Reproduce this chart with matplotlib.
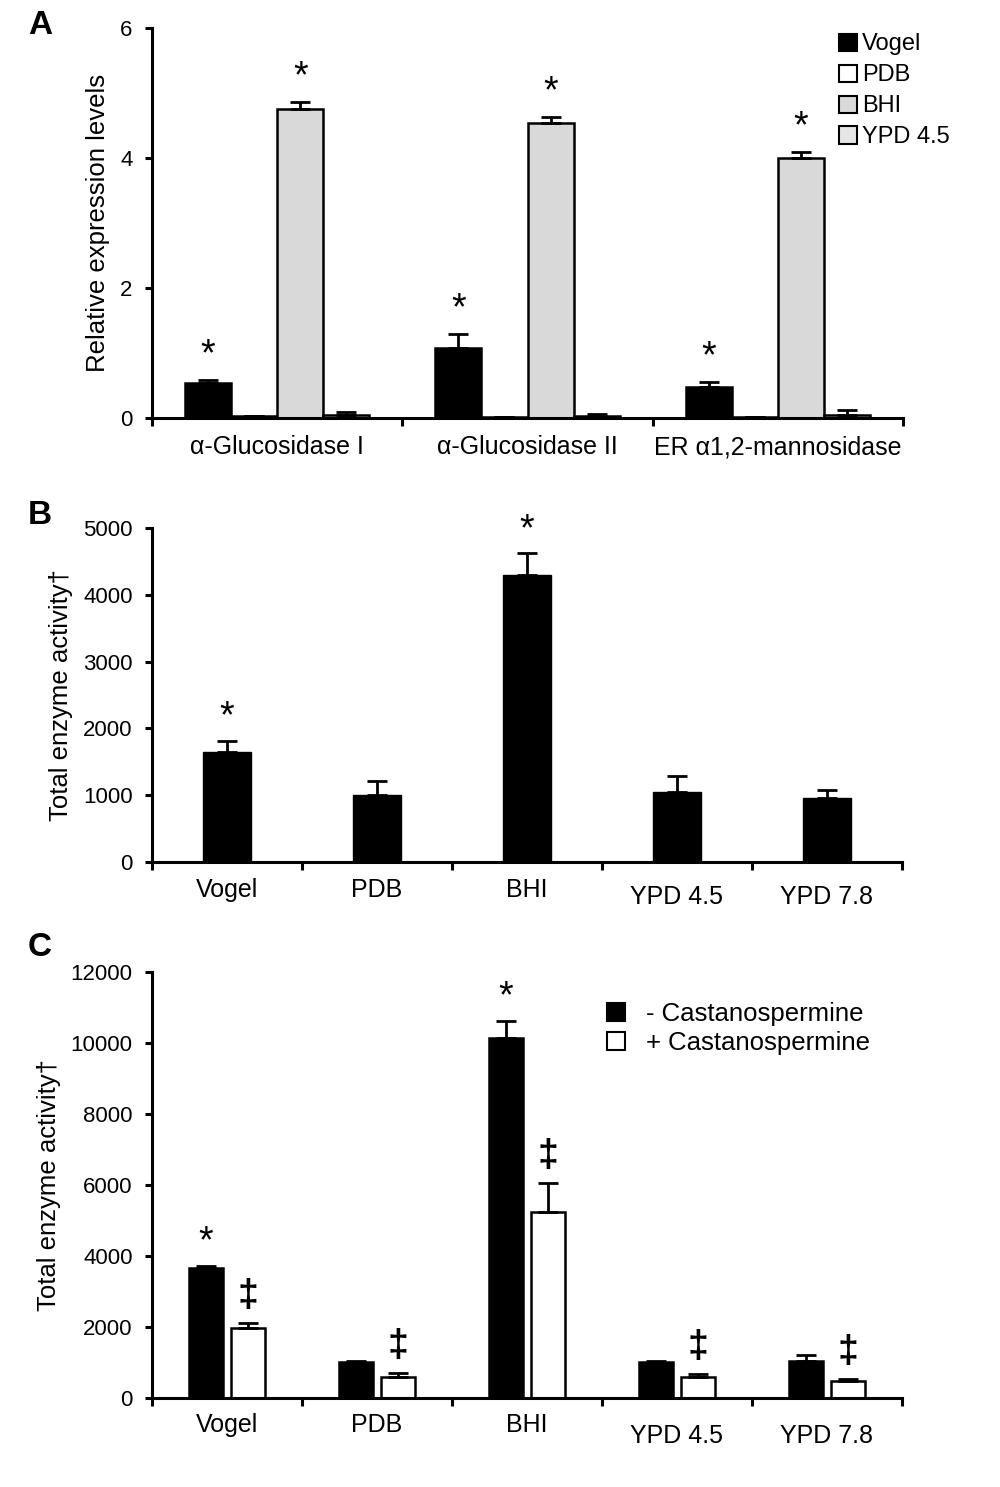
import matplotlib
matplotlib.use("Agg")
import matplotlib.pyplot as plt
from matplotlib.patches import Patch
import numpy as np

plt.rcParams['font.family'] = ['Liberation Sans', 'DejaVu Sans']

# ---------------- data ----------------
genes = ["α-Glucosidase I", "α-Glucosidase II", "ER α1,2-mannosidase"]
media_a = ["Vogel", "PDB", "BHI", "YPD 4.5"]
a_vals = {
    "Vogel":   [0.54, 1.08, 0.48],
    "PDB":     [0.03, 0.02, 0.02],
    "BHI":     [4.76, 4.54, 4.00],
    "YPD 4.5": [0.05, 0.03, 0.05],
}
a_err = {
    "Vogel":   [0.05, 0.22, 0.08],
    "PDB":     [0.00, 0.00, 0.00],
    "BHI":     [0.10, 0.09, 0.09],
    "YPD 4.5": [0.04, 0.03, 0.07],
}
a_star = {"Vogel": [True, True, True], "BHI": [True, True, True]}

media = ["Vogel", "PDB", "BHI", "YPD 4.5", "YPD 7.8"]
b_vals = [1650, 1000, 4300, 1050, 960]
b_err = [160, 210, 320, 240, 120]
b_star = [True, False, True, False, False]

c_minus = [3660, 1020, 10150, 1020, 1050]
c_minus_err = [70, 20, 480, 20, 150]
c_plus = [1970, 590, 5230, 590, 480]
c_plus_err = [140, 110, 820, 100, 60]
c_star = [True, False, True, False, False]
c_dagger = [True, True, True, True, True]

# ---------------- figure ----------------
W, H = 1000, 1487
fig = plt.figure(figsize=(W / 100, H / 100), dpi=100)

TICK_FS = 16
LAB_FS = 18.5
CAT_FS = 18


def fx(px):
    return px / W


def fy(py):
    return 1 - py / H


def style_axes(ax, ncat):
    for s in ["top", "right"]:
        ax.spines[s].set_visible(False)
    for s in ["left", "bottom"]:
        ax.spines[s].set_linewidth(2.2)
    ax.set_xlim(-0.5, ncat - 0.5)
    ax.set_xticks(np.arange(ncat + 1) - 0.5)
    ax.set_xticklabels([])
    ax.tick_params(axis="x", length=6, width=2.2, direction="out")
    ax.tick_params(axis="y", length=5, width=2.2, direction="out",
                   labelsize=TICK_FS, pad=9)


ekw = dict(ecolor="black", elinewidth=2, capsize=7, capthick=2)

# ---------------- Panel A ----------------
axA = fig.add_axes([fx(152), fy(418), fx(903) - fx(152), fy(28) - fy(418)])
colors_a = {"Vogel": "black", "PDB": "white", "BHI": "#d9d9d9", "YPD 4.5": "#e6e6e6"}
wA = 0.184
x = np.arange(len(genes))
for i, m in enumerate(media_a):
    pos = x + (i - 1.5) * wA
    v = np.array(a_vals[m])
    e = np.array(a_err[m])
    axA.bar(pos, v, width=wA, color=colors_a[m], edgecolor="black", linewidth=1.8, zorder=2)
    axA.errorbar(pos, v, yerr=[np.zeros_like(e), e], fmt="none", zorder=3, **ekw)
    if m in a_star:
        for p, vv, ee, s in zip(pos, v, e, a_star[m]):
            if s:
                axA.text(p, vv + ee + 0.1, "*", ha="center", va="bottom", fontsize=27)
axA.set_ylim(0, 6)
axA.set_yticks([0, 2, 4, 6])
style_axes(axA, len(genes))
axA.set_ylabel("Relative expression levels", fontsize=LAB_FS, labelpad=7)
for xi, g in zip(x, genes):
    axA.text(xi, -0.45, g, ha="center", va="center", fontsize=CAT_FS)
legA = [Patch(facecolor=colors_a[m], edgecolor="black", linewidth=1.5, label=m) for m in media_a]
fig.legend(handles=legA, loc="upper left", bbox_to_anchor=(fx(830), fy(24)),
           frameon=False, fontsize=17, handlelength=0.75, handleheight=0.75,
           handletextpad=0.2, labelspacing=0.38, borderaxespad=0)
fig.text(fx(40), fy(25), "A", fontsize=24, fontweight="bold", ha="center", va="center")

# ---------------- Panel B ----------------
axB = fig.add_axes([fx(152), fy(862), fx(902) - fx(152), fy(528) - fy(862)])
xb = np.arange(len(media))
wB = 0.32
axB.bar(xb, b_vals, width=wB, color="black", edgecolor="black", zorder=2)
axB.errorbar(xb, b_vals, yerr=[np.zeros(len(b_err)), b_err], fmt="none", zorder=3, **ekw)
for p, v, e, s in zip(xb, b_vals, b_err, b_star):
    if s:
        axB.text(p, v + e + 80, "*", ha="center", va="bottom", fontsize=27)
axB.set_ylim(0, 5000)
axB.set_yticks(range(0, 5001, 1000))
style_axes(axB, len(media))
axB.set_ylabel("Total enzyme activity†", fontsize=LAB_FS, labelpad=7)
for xi, m in zip(xb, media):
    yy = -525 if m.startswith("YPD") else -420
    axB.text(xi, yy, m, ha="center", va="center", fontsize=CAT_FS)
fig.text(fx(40), fy(515), "B", fontsize=24, fontweight="bold", ha="center", va="center")

# ---------------- Panel C ----------------
axC = fig.add_axes([fx(152), fy(1398), fx(902) - fx(152), fy(972) - fy(1398)])
xc = np.arange(len(media))
wC = 0.227
off = 0.14
axC.bar(xc - off, c_minus, width=wC, color="black", edgecolor="black", linewidth=1.8, zorder=2)
axC.bar(xc + off, c_plus, width=wC, color="white", edgecolor="black", linewidth=1.8, zorder=2)
axC.errorbar(xc - off, c_minus, yerr=[np.zeros(5), c_minus_err], fmt="none", zorder=3, **ekw)
axC.errorbar(xc + off, c_plus, yerr=[np.zeros(5), c_plus_err], fmt="none", zorder=3, **ekw)
for p, v, e, s in zip(xc - off, c_minus, c_minus_err, c_star):
    if s:
        axC.text(p, v + e + 150, "*", ha="center", va="bottom", fontsize=27)
for p, v, e, s in zip(xc + off, c_plus, c_plus_err, c_dagger):
    if s:
        axC.text(p, v + e + 250, "‡", ha="center", va="bottom", fontsize=27, fontweight="bold")
axC.set_ylim(0, 12000)
axC.set_yticks(range(0, 12001, 2000))
style_axes(axC, len(media))
axC.set_ylabel("Total enzyme activity†", fontsize=LAB_FS, labelpad=7)
for xi, m in zip(xc, media):
    yy = -1070 if m.startswith("YPD") else -760
    axC.text(xi, yy, m, ha="center", va="center", fontsize=CAT_FS)
legC = [Patch(facecolor="black", edgecolor="black", linewidth=1.5, label="- Castanospermine"),
        Patch(facecolor="white", edgecolor="black", linewidth=1.5, label="+ Castanospermine")]
fig.legend(handles=legC, loc="upper left", bbox_to_anchor=(fx(597), fy(992)),
           frameon=False, fontsize=18.5, handlelength=0.7, handleheight=0.7,
           handletextpad=0.8, labelspacing=0.2, borderaxespad=0)
fig.text(fx(40), fy(948), "C", fontsize=24, fontweight="bold", ha="center", va="center")

fig.savefig("out.png", dpi=100)
